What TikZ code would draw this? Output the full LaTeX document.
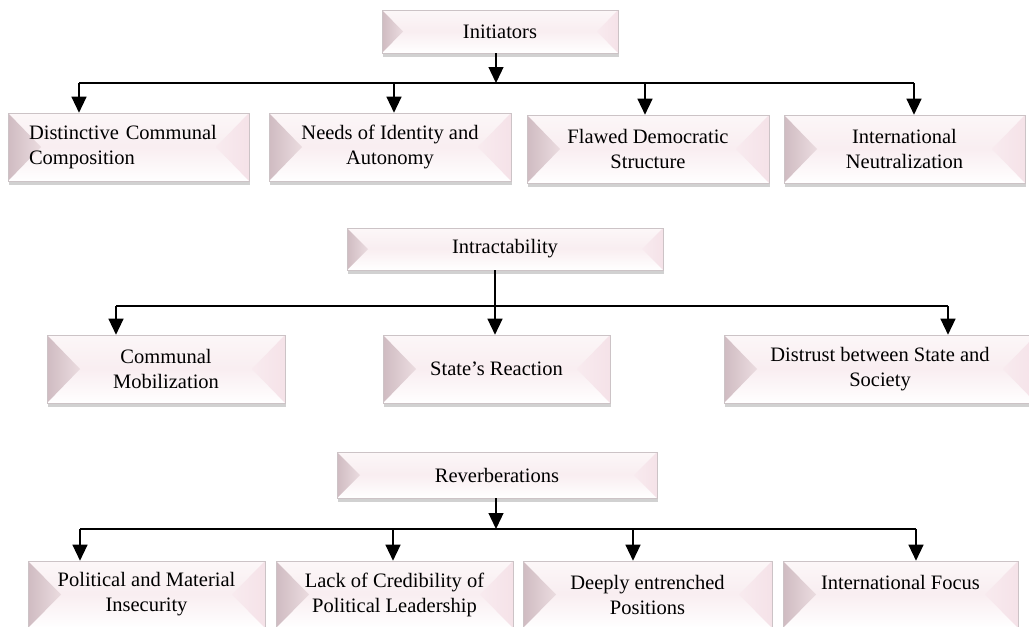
\documentclass[tikz,border=0pt]{standalone}
\usepackage{fontspec}
\setmainfont{Liberation Serif}
\usetikzlibrary{arrows.meta,shadows}
\definecolor{bvedge}{HTML}{CCC3C6}
\definecolor{bvdark}{HTML}{CFBBC1}
\definecolor{bvleft}{HTML}{EBDCE0}
\definecolor{bvtop}{HTML}{FCF7F8}
\definecolor{bvmid}{HTML}{F5E4E9}
\definecolor{bvlow}{HTML}{F9EEF1}
\definecolor{bvright}{HTML}{F5E2E8}
\tikzset{
  bevelbox/.style={draw=bvedge, line width=0.6pt, inner sep=0pt, align=center,
    font=\fontsize{20.5}{25}\selectfont,
    drop shadow={shadow xshift=1pt, shadow yshift=-3.5pt, fill=black, opacity=0.18},
    path picture={
      \shade[top color=bvtop, bottom color=bvmid] (path picture bounding box.north west) rectangle (path picture bounding box.east);
      \shade[top color=bvlow, bottom color=white] (path picture bounding box.west) rectangle (path picture bounding box.south east);
      \shade[left color=bvdark, right color=bvleft] (path picture bounding box.north west) -- ([xshift=#1]path picture bounding box.west) -- (path picture bounding box.south west) -- cycle;
      \shade[left color=bvright!70!white, right color=bvright] (path picture bounding box.north east) -- ([xshift=-#1]path picture bounding box.east) -- (path picture bounding box.south east) -- cycle;
    }},
  bevelbox/.default=33pt,
  arr/.style={line width=1.3pt, -{Triangle[width=15pt,length=16pt]}},
  bar/.style={line width=1.3pt}
}
\begin{document}
\begin{tikzpicture}[x=1pt,y=-1pt]
\fill[white] (0,0) rectangle (1029,627);
\useasboundingbox (0,0) rectangle (1029,627);

\node[bevelbox=21pt, minimum width=236pt, minimum height=43pt] (init) at (500,31.5) {Initiators};
\node[bevelbox, minimum width=241pt, minimum height=68pt, text width=199pt, align=left] (comp) at (128.5,147) {Distinctive Communal\\Composition};
\node[bevelbox, minimum width=242pt, minimum height=68pt] (need) at (390,147) {Needs of Identity and\\Autonomy};
\node[bevelbox, minimum width=242pt, minimum height=68pt] (flaw) at (648,149) {Flawed Democratic\\Structure};
\node[bevelbox, minimum width=241pt, minimum height=68pt] (neut) at (904.5,149) {International\\Neutralization};

\node[bevelbox=21pt, minimum width=316pt, minimum height=42pt] (intr) at (505,249) {Intractability};
\node[bevelbox, minimum width=238pt, minimum height=68pt] (mobi) at (166,369) {Communal\\Mobilization};
\node[bevelbox, minimum width=227pt, minimum height=68pt] (reac) at (496.5,369) {State’s Reaction};
\node[bevelbox, minimum width=312pt, minimum height=68pt] (dist) at (880,369) {Distrust between State and\\Society};

\node[bevelbox=23pt, minimum width=320pt, minimum height=46pt] (reve) at (497,475) {Reverberations};
\node[bevelbox, minimum width=237pt, minimum height=67pt] (insec) at (146.5,594.5) {Political and Material\\Insecurity};
\node[bevelbox, minimum width=237pt, minimum height=67pt] (lack) at (394.5,594.5) {Lack of Credibility of\\Political Leadership};
\node[bevelbox, minimum width=249pt, minimum height=67pt] (deep) at (647.5,594.5) {Deeply entrenched\\Positions};
\node[bevelbox, minimum width=235pt, minimum height=67pt] (focus) at (900.5,594.5) {International Focus\\\mbox{}};

\coordinate (t1) at (79,83);
\coordinate (t2) at (394,83);
\coordinate (tm) at (496,83);
\coordinate (t3) at (645,83);
\coordinate (t4) at (914,83);
\draw[bar] (t1) -- (t4);
\draw[arr] (init.south -| tm) -- (tm);
\draw[arr] (t1) -- (t1 |- comp.north);
\draw[arr] (t2) -- (t2 |- need.north);
\draw[arr] (t3) -- (t3 |- flaw.north);
\draw[arr] (t4) -- (t4 |- neut.north);

\coordinate (u1) at (116,306);
\coordinate (um) at (495,306);
\coordinate (u3) at (948,306);
\draw[bar] (u1) -- (u3);
\draw[arr] (intr.south -| um) -- (um |- reac.north);
\draw[arr] (u1) -- (u1 |- mobi.north);
\draw[arr] (u3) -- (u3 |- dist.north);

\coordinate (v1) at (80,529);
\coordinate (v2) at (393,529);
\coordinate (vm) at (496,529);
\coordinate (v3) at (633,529);
\coordinate (v4) at (916,529);
\draw[bar] (v1) -- (v4);
\draw[arr] (reve.south -| vm) -- (vm);
\draw[arr] (v1) -- (v1 |- insec.north);
\draw[arr] (v2) -- (v2 |- lack.north);
\draw[arr] (v3) -- (v3 |- deep.north);
\draw[arr] (v4) -- (v4 |- focus.north);
\end{tikzpicture}
\end{document}
